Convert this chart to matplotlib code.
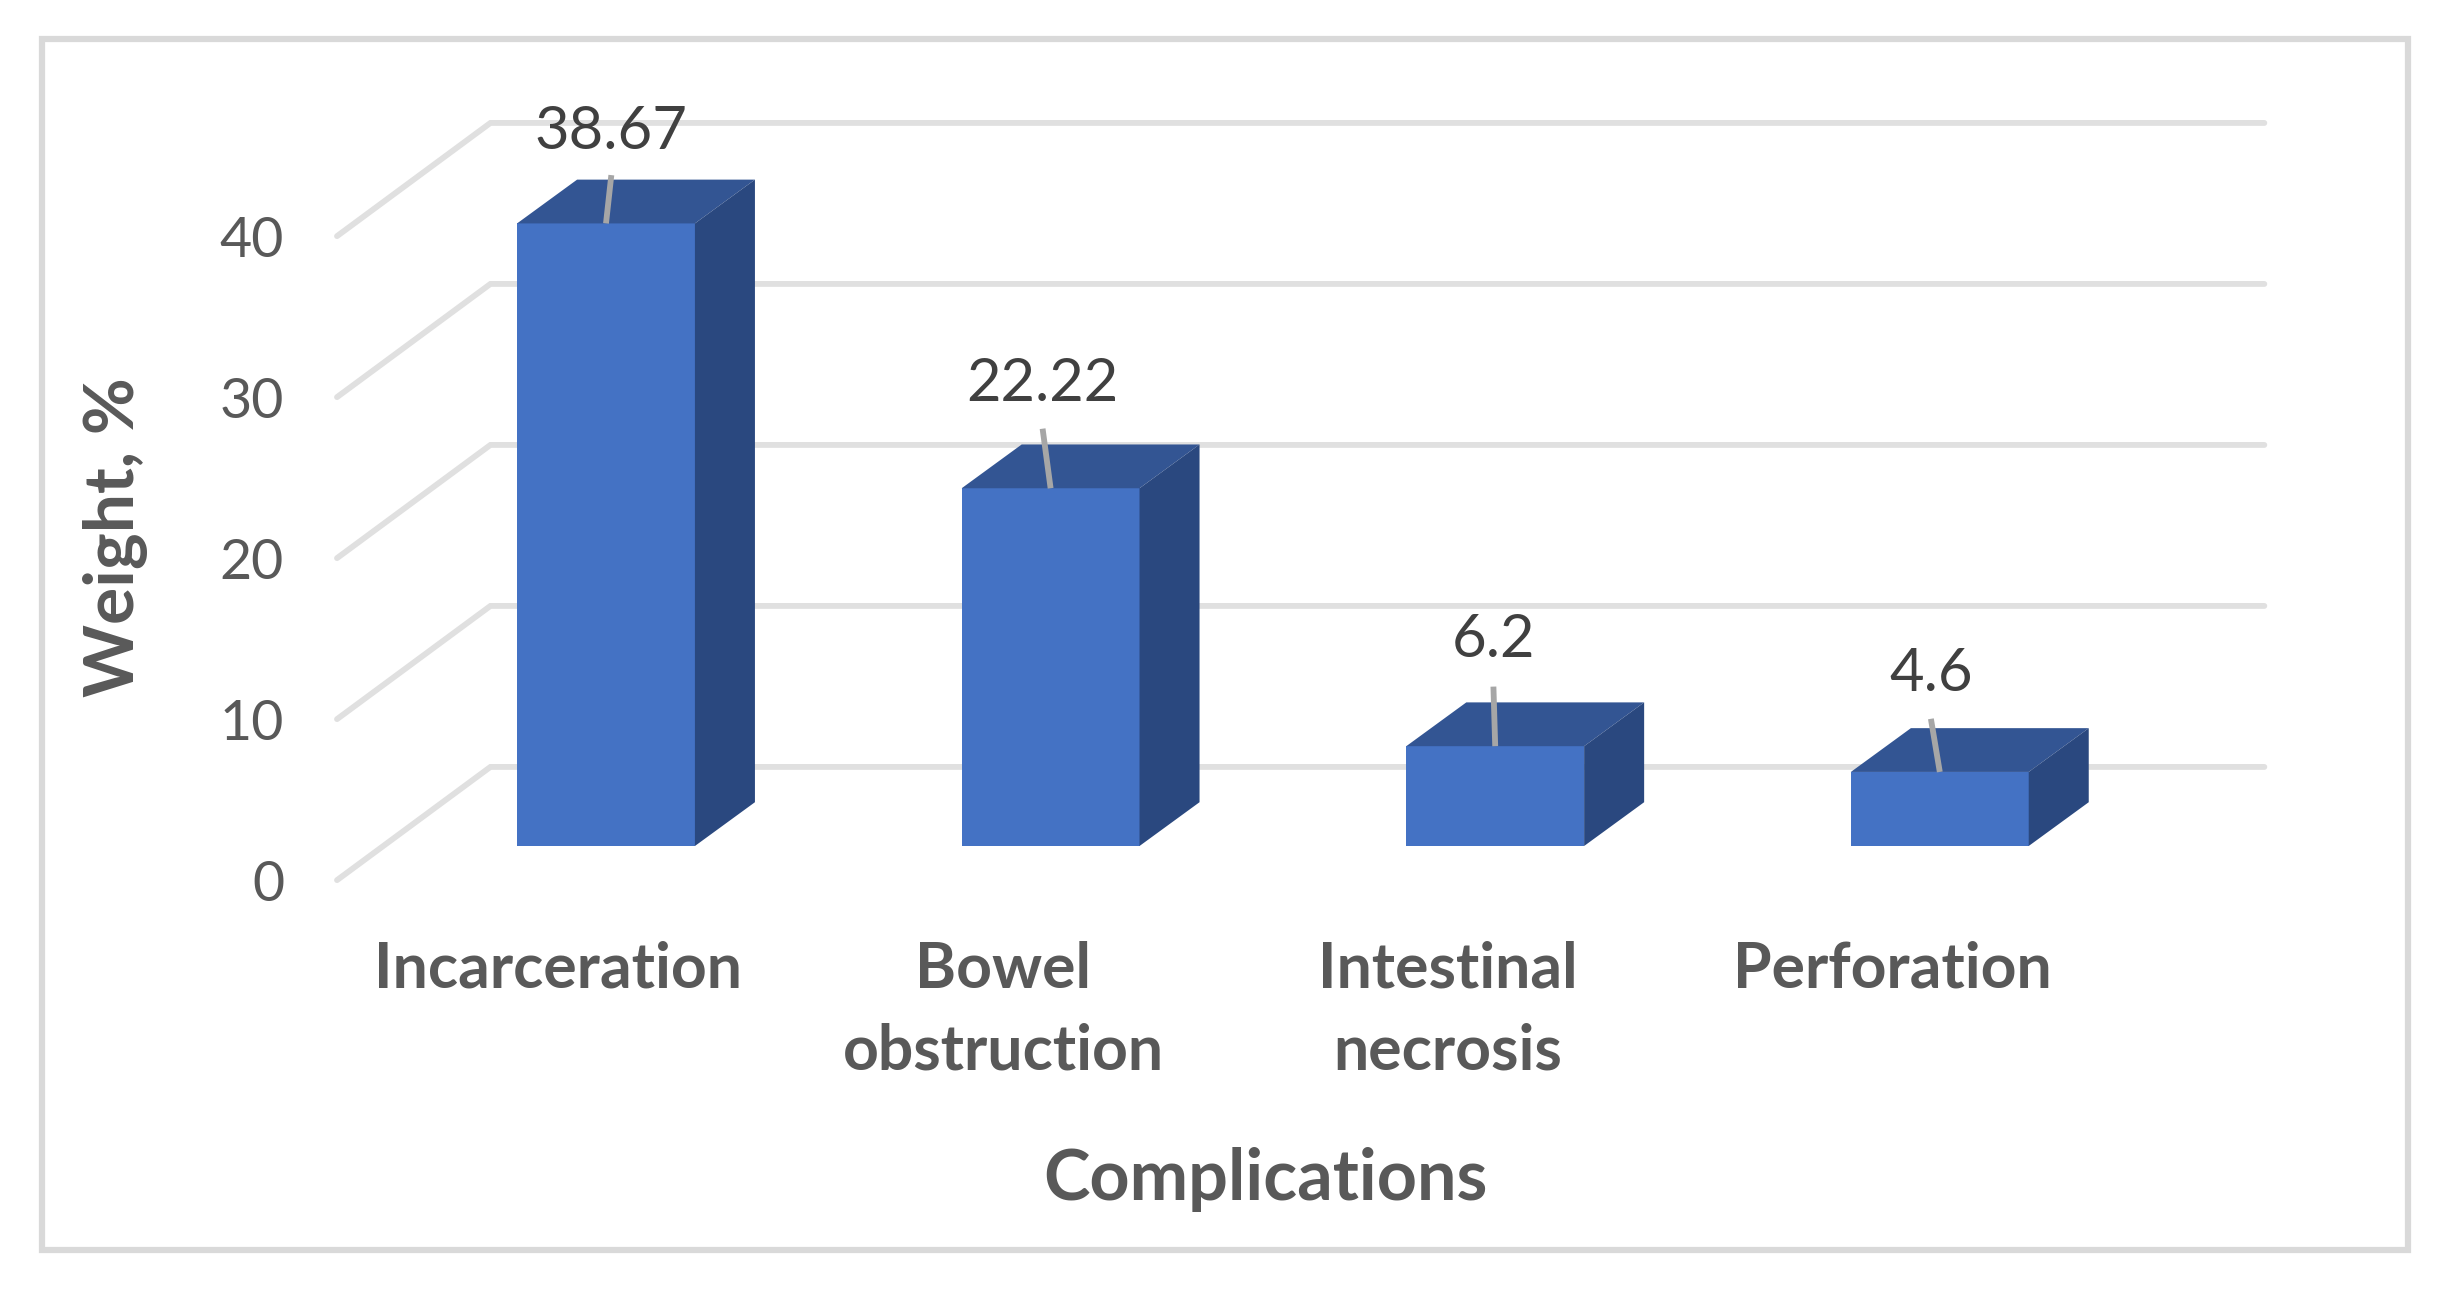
import matplotlib
matplotlib.use('Agg')
import matplotlib.pyplot as plt
from matplotlib.patches import Rectangle

plt.rcParams['font.family'] = ['Lato', 'DejaVu Sans']

# -----------------------------------------------------------------------------
# DATA
# -----------------------------------------------------------------------------
categories = ['Incarceration', 'Bowel\nobstruction', 'Intestinal\nnecrosis', 'Perforation']
values = [38.67, 22.22, 6.2, 4.6]
value_labels = ['38.67', '22.22', '6.2', '4.6']
y_ticks = [0, 10, 20, 30, 40]

# leader line ends and label centres, relative to the bar centre / top
leader_dx = [0.012, -0.018, -0.004, -0.02]
leader_rise = [3.0, 3.7, 3.7, 3.3]
label_rise = [6.0, 6.8, 6.9, 6.4]

# -----------------------------------------------------------------------------
# SETTINGS
# -----------------------------------------------------------------------------
X_UNIT = 444.6   # pixels per category
Y_UNIT = 16.1    # pixels per percent
X0_PX = 606      # pixel column of the first bar centre
Y0_PX = 846      # pixel row of value 0 on the bar plane
BAR_W = 0.4
DEPTH_X = 0.135  # bar depth
DEPTH_Y = 2.72
WALL_X = (-0.605, -0.26, 3.73)
WALL_FRONT_Y = -2.12
WALL_BACK_Y = 4.91
TEXT_COLOR = '#595959'
LABEL_COLOR = '#404040'
GRID_COLOR = '#e0e0e0'

fig = plt.figure(figsize=(24.5, 12.9), dpi=100, facecolor='white')
ax = fig.add_axes([0, 0, 1, 1])
ax.set_xlim(-X0_PX / X_UNIT, (2450 - X0_PX) / X_UNIT)
ax.set_ylim((Y0_PX - 1290) / Y_UNIT, Y0_PX / Y_UNIT)
ax.axis('off')

# outer frame
fig.add_artist(Rectangle((42 / 2450, 1 - 1250 / 1290), (2408 - 42) / 2450, (1250 - 39) / 1290,
                         transform=fig.transFigure, fill=False, edgecolor='#d9d9d9', linewidth=4.5))

# gridlines: floor and side wall in perspective, then along the back wall
for tick in y_ticks:
    xs = list(WALL_X)
    ys = [tick + WALL_FRONT_Y, tick + WALL_BACK_Y, tick + WALL_BACK_Y]
    ax.plot(xs, ys, color=GRID_COLOR, linewidth=4.2, solid_capstyle='round',
            solid_joinstyle='miter', zorder=1)
    ax.text(-0.724, tick + WALL_FRONT_Y, str(tick), ha='right', va='center_baseline',
            fontsize=40, color=TEXT_COLOR, zorder=5)

# bars: front face through ax.bar, top and side faces from the same values
positions = list(range(len(values)))
ax.bar(positions, values, width=BAR_W, color='#4472c4', zorder=3)
for x, v in zip(positions, values):
    left, right = x - BAR_W / 2, x + BAR_W / 2
    ax.fill([left, right, right + DEPTH_X, left + DEPTH_X],
            [v, v, v + DEPTH_Y, v + DEPTH_Y], color='#335593', linewidth=0, zorder=3)
    ax.fill([right, right + DEPTH_X, right + DEPTH_X, right],
            [0, DEPTH_Y, v + DEPTH_Y, v], color='#2a487f', linewidth=0, zorder=3)

# data labels with leader lines
for x, v, text, dx, rise, lab in zip(positions, values, value_labels, leader_dx, leader_rise, label_rise):
    ax.plot([x, x + dx], [v, v + rise], color='#a6a6a6', linewidth=4.2,
            solid_capstyle='butt', zorder=4)
    ax.text(x + dx, v + lab, text, ha='center', va='center_baseline',
            fontsize=43, color=LABEL_COLOR, zorder=5)

# category labels
for x, name in zip(positions, categories):
    ax.text(x - 0.107, -5.9, name, ha='center', va='top', fontsize=45,
            fontweight='bold', color=TEXT_COLOR, linespacing=1.49, zorder=5)

ax.text(1.484, -20.7, 'Complications', ha='center', va='center', fontsize=50.5,
        fontweight='bold', color=TEXT_COLOR)
ax.text(-1.104, 19.2, 'Weight, %', ha='center', va='center', rotation=90, fontsize=50,
        fontweight='bold', color=TEXT_COLOR)

fig.savefig('out.png', dpi=100, facecolor='white')
